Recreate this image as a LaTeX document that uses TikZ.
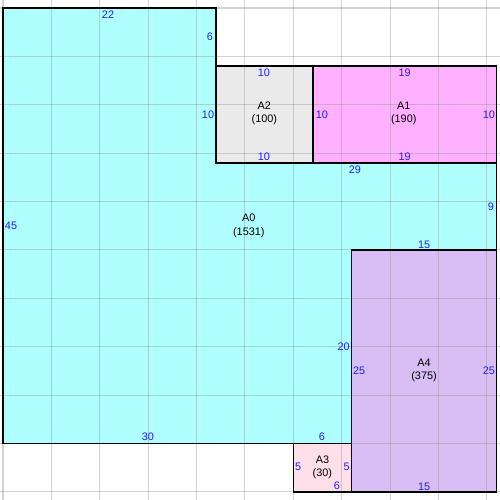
\documentclass[tikz,border=0pt]{standalone}
\usepackage{fontspec}
\setmainfont{Liberation Sans}
\usepackage{xcolor}
\usetikzlibrary{positioning}

\definecolor{areaA0}{RGB}{176,255,255}
\definecolor{areaA1}{RGB}{255,176,255}
\definecolor{areaA2}{RGB}{234,234,234}
\definecolor{areaA3}{RGB}{255,224,234}
\definecolor{areaA4}{RGB}{216,190,245}
\definecolor{dimblue}{RGB}{30,30,255}

\begin{document}
\begin{tikzpicture}[
    x=0.2cm, y=-0.2cm,
    area/.style={draw=black, line width=0.9pt},
    gridline/.style={draw=black!43, opacity=0.4, line width=0.6pt},
    dim/.style={text=dimblue, inner sep=0pt, font=\fontsize{6.4pt}{7.7pt}\selectfont},
    areaname/.style={text=black, inner sep=0pt, align=center, font=\fontsize{6.4pt}{7.7pt}\selectfont}
]
    \useasboundingbox (-0.31,-0.826) rectangle (51.34,50.83);
    \clip (-0.31,-0.826) rectangle (51.34,50.83);
    \fill[white] (-0.31,-0.826) rectangle (51.34,50.83);

    % areas
    \fill[areaA0] (0,0) -- (22,0) -- (22,16) -- (51,16) -- (51,25) -- (36,25) -- (36,45) -- (0,45) -- cycle;
    \fill[areaA2] (22,6) rectangle (32,16);
    \fill[areaA1] (32,6) rectangle (51,16);
    \fill[areaA4] (36,25) rectangle (51,50);
    \fill[areaA3] (30,45) rectangle (36,50);

    % grid
    \foreach \k in {0,5,...,50} {
        \draw[gridline] (\k,-1) -- (\k,52);
        \draw[gridline] (-1,\k) -- (52,\k);
    }

    % outlines
    \draw[area] (0,0) -- (22,0) -- (22,16) -- (51,16) -- (51,25) -- (36,25) -- (36,45) -- (0,45) -- cycle;
    \draw[area] (22,6) rectangle (32,16);
    \draw[area] (32,6) rectangle (51,16);
    \draw[area] (36,25) rectangle (51,50);
    \draw[area] (30,45) rectangle (36,50);

    % area names
    \node[areaname] (nameA0) at (25.4,22.5) {A0\\(1531)};
    \node[areaname] (nameA1) at (41.4,10.9) {A1\\(190)};
    \node[areaname] (nameA2) at (27,10.9) {A2\\(100)};
    \node[areaname] (nameA3) at (33,47.5) {A3\\(30)};
    \node[areaname] (nameA4) at (43.5,37.45) {A4\\(375)};

    % A0 edges
    \node[dim] (a0top) at (10.85,0.72) {22};
    \node[dim] (a0notch) at (21.38,3.0) {6};
    \node[dim] (a0side) at (21.18,11.05) {10};
    \node[dim] (a0mid) at (36.36,16.74) {29};
    \node[dim] (a0right) at (50.4,20.56) {9};
    \node[dim] (a0step) at (43.5,24.48) {15};
    \node[dim] (a0inner) at (35.2,35.0) {20};
    \node[dim] (a0foot) at (32.95,44.3) {6};
    \node[dim] (a0bottom) at (14.98,44.3) {30};
    \node[dim] (a0left) at (0.83,22.5) {45};

    % A2 edges
    \node[dim] (a2top) at (26.96,6.7) {10};
    \node[dim] (a2bottom) at (26.96,15.4) {10};

    % A1 edges
    \node[dim] (a1top) at (41.5,6.7) {19};
    \node[dim] (a1bottom) at (41.5,15.4) {19};
    \node[dim] (a1left) at (32.95,11.05) {10};
    \node[dim] (a1right) at (50.2,11.05) {10};

    % A4 edges
    \node[dim] (a4left) at (36.8,37.5) {25};
    \node[dim] (a4right) at (50.2,37.5) {25};
    \node[dim] (a4bottom) at (43.5,49.5) {15};

    % A3 edges
    \node[dim] (a3left) at (30.5,47.4) {5};
    \node[dim] (a3right) at (35.5,47.4) {5};
    \node[dim] (a3bottom) at (34.5,49.4) {6};
\end{tikzpicture}
\end{document}
